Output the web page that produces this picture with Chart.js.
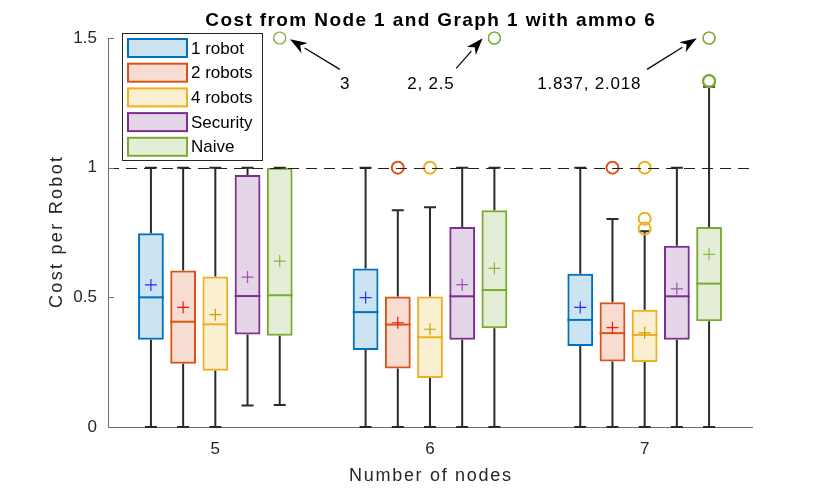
<!DOCTYPE html>
<html>
<head>
<meta charset="utf-8">
<script src="https://cdn.jsdelivr.net/npm/chart.js@4.4.0/dist/chart.umd.min.js"></script>
<style>
  html, body { margin: 0; padding: 0; background: #fff; }
  #wrap { width: 830px; height: 490px; }
</style>
</head>
<body>
<div id="wrap"><canvas id="box-chart" width="830" height="490"></canvas></div>
<script>
// categories and series
const categories = ["5", "6", "7"];
const seriesNames = ["1 robot", "2 robots", "4 robots", "Security", "Naive"];

// box statistics, one row per series, one column per category
const q1Values = [
  [0.336, 0.297, 0.312],
  [0.244, 0.226, 0.253],
  [0.217, 0.189, 0.251],
  [0.357, 0.336, 0.336],
  [0.352, 0.381, 0.408],
];
const medianValues = [
  [0.5, 0.443, 0.413],
  [0.406, 0.395, 0.362],
  [0.396, 0.346, 0.355],
  [0.505, 0.504, 0.504],
  [0.508, 0.528, 0.553],
];
const q3Values = [
  [0.747, 0.611, 0.591],
  [0.603, 0.503, 0.481],
  [0.58, 0.503, 0.452],
  [0.972, 0.771, 0.699],
  [1.0, 0.836, 0.771],
];
const meanValues = [
  [0.548, 0.499, 0.461],
  [0.461, 0.402, 0.383],
  [0.433, 0.377, 0.363],
  [0.578, 0.549, 0.533],
  [0.64, 0.612, 0.666],
];
const whiskerLow = [
  [0, 0, 0],
  [0, 0, 0],
  [0, 0, 0],
  [0.083, 0, 0],
  [0.085, 0, 0],
];
const whiskerHigh = [
  [1, 1, 1],
  [1, 0.836, 0.802],
  [1, 0.847, 0.755],
  [1, 1, 1],
  [1, 1, 1.312],
];
const outlierValues = [
  [[], [], []],
  [[], [1], [1]],
  [[], [1], [1, 0.803, 0.765]],
  [[], [], []],
  [[3], [2, 2.5], [1.333, 1.334, 1.837, 2.018]],
];

// y axis ticks
const yTicks = [0, 0.5, 1, 1.5];
const refLine = 1;

// notes for the clipped outliers (x as category index, y in data units)
const noteTexts = ["3", "2, 2.5", "1.837, 2.018"];
const noteTextX = [0.603, 1.002, 1.74];
const noteTextY = [1.323, 1.323, 1.323];
const arrowTailX = [0.58, 1.122, 2.011];
const arrowTailY = [1.379, 1.383, 1.379];
const arrowHeadX = [0.348, 1.245, 2.243];
const arrowHeadY = [1.495, 1.499, 1.499];

const lineColors = ["#0072BD", "#D95319", "#EDB120", "#7E2F8E", "#77AC30"];
const fillColors = [
  "rgba(0,114,189,0.2)",
  "rgba(217,83,25,0.2)",
  "rgba(237,177,32,0.2)",
  "rgba(126,47,142,0.2)",
  "rgba(119,172,48,0.2)",
];
const meanColors = ["#2b2bff", "#ff1010", "#c8a000", "#9a55aa", "#86b84a"];
const FONT = "'Liberation Sans', Arial, Helvetica, sans-serif";
const TEXT = "#262626";

function spacedText(ctx, txt, x, y, spacing) {
  ctx.letterSpacing = spacing + "px";
  // shift by half the trailing gap so the text stays centred
  ctx.fillText(txt, x + spacing / 2, y);
  ctx.letterSpacing = "0px";
}

const boxExtras = {
  id: "boxExtras",
  afterDatasetsDraw(chart) {
    const ctx = chart.ctx;
    const y = chart.scales.y;
    const x = chart.scales.x;
    const area = chart.chartArea;
    const yMax = y.max;

    ctx.save();
    // medians, whiskers, caps
    chart.data.datasets.forEach(function (ds, s) {
      const meta = chart.getDatasetMeta(s);
      meta.data.forEach(function (bar, i) {
        const cx = bar.x;
        const half = bar.width / 2;
        const capHalf = 6;

        ctx.strokeStyle = "#2a2a2a";
        ctx.lineWidth = 2;
        ctx.beginPath();
        ctx.moveTo(cx, y.getPixelForValue(q3Values[s][i]));
        ctx.lineTo(cx, y.getPixelForValue(whiskerHigh[s][i]));
        ctx.moveTo(cx, y.getPixelForValue(q1Values[s][i]));
        ctx.lineTo(cx, y.getPixelForValue(whiskerLow[s][i]));
        ctx.stroke();
        ctx.beginPath();
        ctx.moveTo(cx - capHalf, y.getPixelForValue(whiskerHigh[s][i]));
        ctx.lineTo(cx + capHalf, y.getPixelForValue(whiskerHigh[s][i]));
        ctx.moveTo(cx - capHalf, y.getPixelForValue(whiskerLow[s][i]));
        ctx.lineTo(cx + capHalf, y.getPixelForValue(whiskerLow[s][i]));
        ctx.stroke();

        // median
        ctx.strokeStyle = lineColors[s];
        ctx.lineWidth = 2;
        ctx.beginPath();
        const my = y.getPixelForValue(medianValues[s][i]);
        ctx.moveTo(cx - half, my);
        ctx.lineTo(cx + half, my);
        ctx.stroke();

        // mean marker
        const ay = y.getPixelForValue(meanValues[s][i]);
        ctx.strokeStyle = meanColors[s];
        ctx.lineWidth = 1.2;
        ctx.beginPath();
        ctx.moveTo(cx - 6, ay);
        ctx.lineTo(cx + 6, ay);
        ctx.moveTo(cx, ay - 6);
        ctx.lineTo(cx, ay + 6);
        ctx.stroke();

        // outliers, values past the axis top sit on the top edge
        ctx.strokeStyle = lineColors[s];
        outlierValues[s][i].forEach(function (v) {
          const oy = y.getPixelForValue(Math.min(v, yMax));
          ctx.lineWidth = v > yMax ? 1.2 : 2;
          ctx.beginPath();
          ctx.arc(cx, oy, 6, 0, Math.PI * 2);
          ctx.stroke();
        });
      });
    });

    // reference line
    ctx.strokeStyle = "#222";
    ctx.lineWidth = 1;
    ctx.setLineDash([11, 7]);
    ctx.beginPath();
    const ry = Math.round(y.getPixelForValue(refLine)) + 0.5;
    ctx.moveTo(area.left, ry);
    ctx.lineTo(area.right, ry);
    ctx.stroke();
    ctx.setLineDash([]);

    // inward y ticks
    ctx.strokeStyle = "rgb(110,110,110)";
    ctx.lineWidth = 1;
    yTicks.forEach(function (t) {
      const ty = Math.round(y.getPixelForValue(t)) + 0.5;
      ctx.beginPath();
      ctx.moveTo(area.left, ty);
      ctx.lineTo(area.left + 6, ty);
      ctx.stroke();
    });

    // notes and arrows
    ctx.fillStyle = "#000";
    ctx.font = "17px " + FONT;
    ctx.textAlign = "center";
    ctx.textBaseline = "middle";
    noteTexts.forEach(function (txt, k) {
      spacedText(ctx, txt, x.getPixelForValue(noteTextX[k]), y.getPixelForValue(noteTextY[k]), 0.8);
      const x0 = x.getPixelForValue(arrowTailX[k]);
      const y0 = y.getPixelForValue(arrowTailY[k]);
      const x1 = x.getPixelForValue(arrowHeadX[k]);
      const y1 = y.getPixelForValue(arrowHeadY[k]);
      const ang = Math.atan2(y1 - y0, x1 - x0);
      const len = 17, wid = 6;
      const bx = x1 - len * Math.cos(ang);
      const by = y1 - len * Math.sin(ang);
      ctx.strokeStyle = "#000";
      ctx.lineWidth = 1.2;
      ctx.beginPath();
      ctx.moveTo(x0, y0);
      ctx.lineTo(bx, by);
      ctx.stroke();
      ctx.beginPath();
      ctx.moveTo(x1, y1);
      ctx.lineTo(bx - wid * Math.sin(ang), by + wid * Math.cos(ang));
      ctx.lineTo(x1 - 0.7 * len * Math.cos(ang), y1 - 0.7 * len * Math.sin(ang));
      ctx.lineTo(bx + wid * Math.sin(ang), by - wid * Math.cos(ang));
      ctx.closePath();
      ctx.fill();
    });

    // legend box
    const lx = area.left + 14;
    const ly = area.top - 5;
    const rowH = 24.7;
    ctx.fillStyle = "#fff";
    ctx.fillRect(lx, ly, 140, 127);
    ctx.strokeStyle = "#262626";
    ctx.lineWidth = 1;
    ctx.strokeRect(lx + 0.5, ly + 0.5, 140, 127);
    ctx.textAlign = "left";
    ctx.font = "17px " + FONT;
    chart.data.datasets.forEach(function (ds, s) {
      const cy = ly + 15 + s * rowH;
      ctx.fillStyle = ds.backgroundColor;
      ctx.fillRect(lx + 6, cy - 9, 59, 18);
      ctx.strokeStyle = ds.borderColor;
      ctx.lineWidth = 2;
      ctx.strokeRect(lx + 6, cy - 9, 59, 18);
      ctx.fillStyle = "#000";
      ctx.fillText(ds.label, lx + 69, cy + 1);
    });

    // axis titles
    ctx.fillStyle = TEXT;
    ctx.textAlign = "center";
    ctx.font = "18px " + FONT;
    spacedText(ctx, "Number of nodes", (area.left + area.right) / 2, 476, 1.7);
    ctx.save();
    ctx.translate(57, (area.top + area.bottom) / 2);
    ctx.rotate(-Math.PI / 2);
    spacedText(ctx, "Cost per Robot", 0, 0, 2.3);
    ctx.restore();

    // title
    ctx.fillStyle = "#000";
    ctx.font = "bold 19px " + FONT;
    spacedText(ctx, "Cost from Node 1 and Graph 1 with ammo 6", (area.left + area.right) / 2, 21, 1.4);
    ctx.restore();
  },
};

window.onload = function () {
  const datasets = seriesNames.map(function (name, s) {
    return {
      label: name,
      data: categories.map(function (c, i) {
        return [q1Values[s][i], q3Values[s][i]];
      }),
      backgroundColor: fillColors[s],
      borderColor: lineColors[s],
      borderWidth: 2,
      borderSkipped: false,
      categoryPercentage: 0.75,
      barPercentage: 0.8,
    };
  });

  new Chart(document.getElementById("box-chart").getContext("2d"), {
    type: "bar",
    data: { labels: categories, datasets: datasets },
    options: {
      responsive: false,
      animation: false,
      devicePixelRatio: 1,
      layout: { padding: { top: 38, right: 78, bottom: 0, left: 0 } },
      plugins: {
        legend: { display: false },
        tooltip: { enabled: false },
      },
      scales: {
        x: {
          grid: { display: false },
          border: { color: "rgb(110,110,110)", width: 1 },
          ticks: { color: TEXT, font: { family: FONT, size: 17 }, padding: 4 },
          afterFit: function (scale) {
            scale.height = 63;
          },
        },
        y: {
          min: 0,
          max: 1.5,
          grid: { display: false },
          border: { color: "rgb(110,110,110)", width: 1 },
          ticks: {
            stepSize: 0.5,
            color: TEXT,
            font: { family: FONT, size: 17 },
            callback: function (value) {
              return String(value);
            },
          },
          afterFit: function (scale) {
            scale.width = 108;
          },
        },
      },
    },
    plugins: [boxExtras],
  });
};
</script>
</body>
</html>
